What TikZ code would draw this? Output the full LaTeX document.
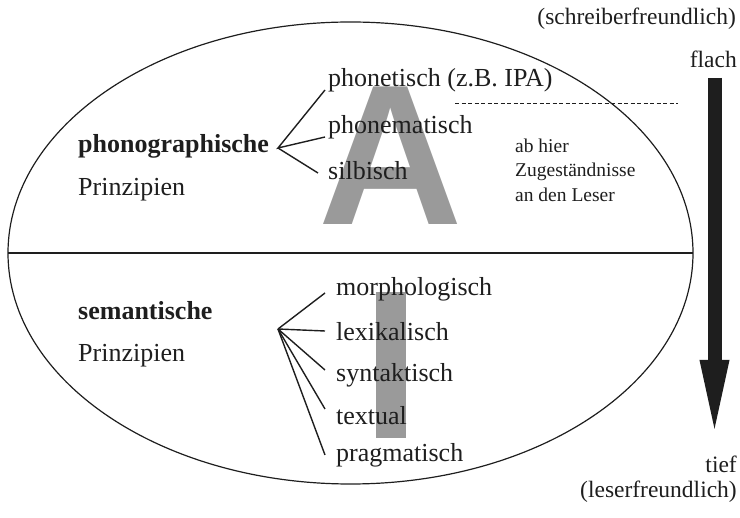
\documentclass[tikz,border=0pt]{standalone}
\usepackage{fontspec}
\setmainfont{Liberation Serif}
\newfontfamily\bigsans{Liberation Sans}
\usetikzlibrary{arrows.meta}
\definecolor{bgray}{RGB}{154,154,154}
\definecolor{ink}{RGB}{30,30,30}
\tikzset{
  lbl/.style={anchor=base west, inner sep=0pt, font=\fontsize{26}{29}\selectfont, text=ink},
  bld/.style={lbl, font=\fontsize{26}{29}\selectfont\bfseries},
  small/.style={anchor=base west, inner sep=0pt, font=\fontsize{19.5}{21}\selectfont, text=ink},
  side/.style={anchor=base east, inner sep=0pt, font=\fontsize{23.5}{26}\selectfont, text=ink},
  branch/.style={draw=ink, line width=1.4pt},
}
\begin{document}
\begin{tikzpicture}[x=1pt,y=-1pt]
\useasboundingbox (0,0) rectangle (740,518);
% background grey letters
\node[anchor=base, inner sep=0pt, text=bgray, font=\bigsans\bfseries\fontsize{200}{200}\selectfont] (bigA) at (391,225) {A};
\fill[bgray] (376,292) rectangle (406,438);
% ellipse and divider
\draw[ink, line width=1.2pt] (350.5,253) ellipse [x radius=342.5, y radius=231];
\coordinate (el) at (8,253);
\coordinate (er) at (693,253);
\draw[ink, line width=1.2pt] (el) -- (er);
% dashed line
\coordinate (d1) at (455,103);
\coordinate (d2) at (678,103);
\draw[ink, line width=0.7pt, dash pattern=on 4pt off 2.5pt] (d1) -- (d2);
% upper half
\node[bld] (phono) at (78,153) {phonographische};
\node[lbl] (prinz1) at (78,196) {Prinzipien};
\node[lbl] (phonet) at (328,87) {phonetisch (z.B. IPA)};
\node[lbl] (phonem) at (328,134) {phonematisch};
\node[lbl] (silb) at (328,180) {silbisch};
\coordinate (b1) at (278,148);
\coordinate (e11) at (325,90);
\coordinate (e12) at (325,137);
\coordinate (e13) at (318,173);
\draw[branch] (e11) -- (b1) -- (e12);
\draw[branch] (b1) -- (e13);
\node[small] (abh) at (515,153) {ab hier};
\node[small] (zug) at (515,177) {Zugeständnisse};
\node[small] (ande) at (515,202) {an den Leser};
% lower half
\node[bld] (sem) at (78,320) {semantische};
\node[lbl] (prinz2) at (78,362) {Prinzipien};
\node[lbl] (morph) at (336,296) {morphologisch};
\node[lbl] (lex) at (336,341) {lexikalisch};
\node[lbl] (syn) at (336,382) {syntaktisch};
\node[lbl] (text) at (336,425) {textual};
\node[lbl] (prag) at (336,462) {pragmatisch};
\coordinate (b2) at (278,329);
\coordinate (e21) at (325,293);
\coordinate (e22) at (325,331);
\coordinate (e23) at (325,370);
\coordinate (e24) at (325,409);
\coordinate (e25) at (325,455);
\foreach \e in {e21,e22,e23,e24,e25} \draw[branch] (b2) -- (\e);
% right side
\node[side] (schr) at (736,25) {(schreiberfreundlich)};
\node[side] (flach) at (737,68) {flach};
\node[side] (tief) at (737,473) {tief};
\node[side] (leser) at (737,498) {(leserfreundlich)};
\coordinate (atop) at (714.5,78);
\coordinate (abot) at (714.5,443);
\draw[ink, line width=14pt, -{Triangle[length=83pt,width=25pt]}] (atop) -- (abot);
\end{tikzpicture}
\end{document}
